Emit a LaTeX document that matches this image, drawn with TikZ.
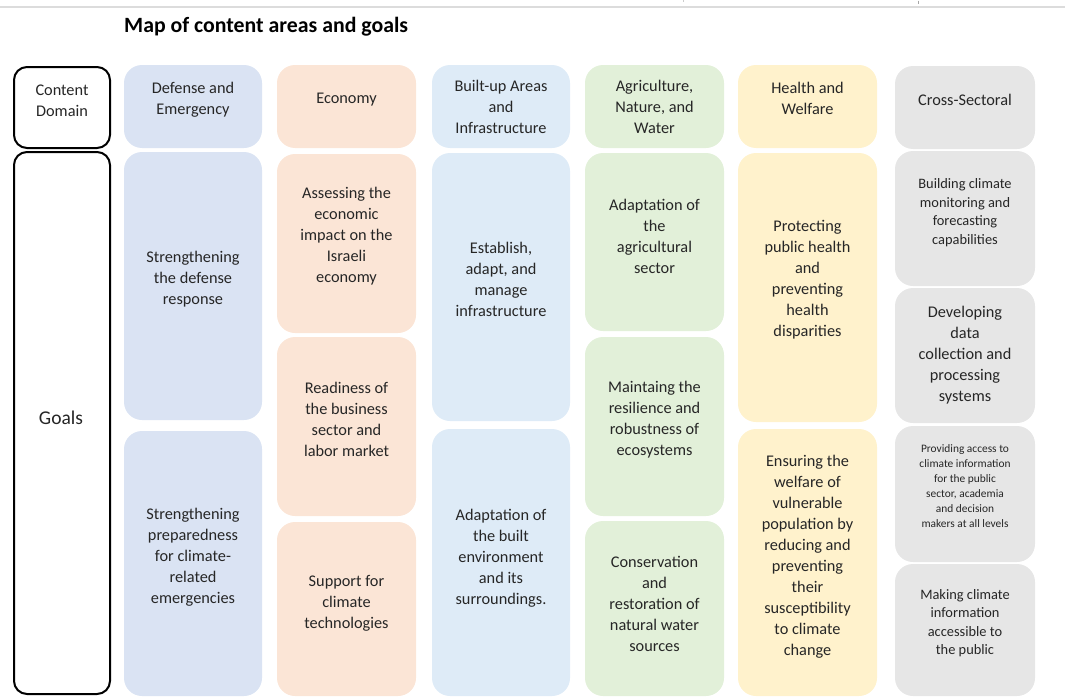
\documentclass[tikz,border=0pt]{standalone}
\usepackage{fontspec}
\setmainfont{Carlito}
\definecolor{ink}{HTML}{262626}
\definecolor{defblue}{HTML}{DAE3F3}
\definecolor{infblue}{HTML}{DEEBF7}
\definecolor{econ}{HTML}{FBE5D6}
\definecolor{agri}{HTML}{E2F0D9}
\definecolor{health}{HTML}{FFF2CC}
\definecolor{cross}{HTML}{E6E6E6}
\definecolor{rule}{HTML}{DCDCDC}

\tikzset{
  tile/.style={draw=none, rounded corners=18pt, inner sep=0pt, outer sep=0pt},
  frame/.style={draw=black, line width=2pt, rounded corners=13pt, inner sep=0pt, fill=white},
  lbl/.style={align=center, text=ink, inner sep=0pt, font=\fontsize{16.3}{21}\selectfont},
  lblsmall/.style={lbl, font=\fontsize{14.4}{18.5}\selectfont},
  lbltiny/.style={lbl, font=\fontsize{11.4}{15}\selectfont},
}

% a rounded tile given by its corners: name, x1, y1, x2, y2, fill
\newcommand{\tile}[6]{%
  \node[tile, fill=#6, minimum width={#4-#2}, minimum height={#5-#3}]
    (#1) at ({(#2+#4)/2},{(#3+#5)/2}) {};}

\begin{document}
\begin{tikzpicture}[x=1pt, y=-1pt]
\useasboundingbox (0,0) rectangle (1065,696);

% page rule along the top edge
\coordinate (ruleL) at (0,7);
\coordinate (ruleR) at (1065,7);
\draw[rule, line width=2pt] (ruleL) -- (ruleR);
\draw[gray!40, line width=0.6pt] (683,0) -- (683,1.5);
\draw[gray!70, line width=1pt] (918,0.5) -- (918,4);

% title
\node[anchor=west, text=black, inner sep=0pt,
      font=\bfseries\fontsize{21.8}{26}\selectfont] (title) at (124,27)
  {Map of content areas and goals};

% row labels
\node[frame, minimum width=96, minimum height=81] (domain) at (62,107.5) {};
\node[lbl] (domain-t) at (62,100.5) {Content\\Domain};
\node[frame, minimum width=96, minimum height=542] (goals) at (62,423) {};
\node[lbl, font=\fontsize{19.5}{23}\selectfont] (goals-t) at (61,417.5) {Goals};

% Defense and Emergency
\tile{c1h}{124}{65}{262}{148}{defblue}
\node[lbl] (c1h-t) at (193,99.5) {Defense and\\Emergency};
\tile{c1a}{124}{152}{262}{420}{defblue}
\node[lbl] (c1a-t) at (193,279) {Strengthening\\the defense\\response};
\tile{c1b}{124}{431}{262}{696}{defblue}
\node[lbl] (c1b-t) at (193,557.5) {Strengthening\\preparedness\\for climate-\\related\\emergencies};

% Economy
\tile{c2h}{277}{65}{416}{148}{econ}
\node[lbl] (c2h-t) at (346.5,100) {Economy};
\tile{c2a}{277}{154}{416}{333}{econ}
\node[lbl] (c2a-t) at (346.5,236) {Assessing the\\economic\\impact on the\\Israeli\\economy};
\tile{c2b}{277}{337}{416}{516}{econ}
\node[lbl] (c2b-t) at (346.5,419) {Readiness of\\the business\\sector and\\labor market};
\tile{c2c}{277}{522}{416}{696}{econ}
\node[lbl] (c2c-t) at (346.5,603.5) {Support for\\climate\\technologies};

% Built-up Areas and Infrastructure
\tile{c3h}{432}{65}{570}{148}{infblue}
\node[lbl] (c3h-t) at (501,107) {Built-up Areas\\and\\Infrastructure};
\tile{c3a}{432}{153}{570}{421}{infblue}
\node[lbl] (c3a-t) at (501,279.5) {Establish,\\adapt, and\\manage\\infrastructure};
\tile{c3b}{432}{429}{570}{696}{infblue}
\node[lbl] (c3b-t) at (501,558.5) {Adaptation of\\the built\\environment\\and its\\surroundings.};

% Agriculture, Nature, and Water
\tile{c4h}{585}{65}{724}{148}{agri}
\node[lbl] (c4h-t) at (654.5,107) {Agriculture,\\Nature, and\\Water};
\tile{c4a}{585}{153}{724}{331}{agri}
\node[lbl] (c4a-t) at (654.5,236) {Adaptation of\\the\\agricultural\\sector};
\tile{c4b}{585}{337}{724}{516}{agri}
\node[lbl] (c4b-t) at (654.5,419.5) {Maintaing the\\resilience and\\robustness of\\ecosystems};
\tile{c4c}{585}{521}{724}{696}{agri}
\node[lbl] (c4c-t) at (654.5,604) {Conservation\\and\\restoration of\\natural water\\sources};

% Health and Welfare
\tile{c5h}{738}{65}{877}{148}{health}
\node[lbl] (c5h-t) at (807.5,98.5) {Health and\\Welfare};
\tile{c5a}{738}{153}{877}{422}{health}
\node[lbl] (c5a-t) at (807.5,280) {Protecting\\public health\\and\\preventing\\health\\disparities};
\tile{c5b}{738}{429}{877}{696}{health}
\node[lbl] (c5b-t) at (807.5,556.5) {Ensuring the\\welfare of\\vulnerable\\population by\\reducing and\\preventing\\their\\susceptibility\\to climate\\change};

% Cross-Sectoral
\tile{c6h}{895}{66}{1035}{149}{cross}
\node[lbl] (c6h-t) at (965,100) {Cross-Sectoral};
\tile{c6a}{895}{151}{1035}{286}{cross}
\node[lblsmall] (c6a-t) at (965,212.5) {Building climate\\monitoring and\\forecasting\\capabilities};
\tile{c6b}{895}{288}{1035}{423}{cross}
\node[lbl] (c6b-t) at (965,355) {Developing\\data\\collection and\\processing\\systems};
\tile{c6c}{895}{426}{1035}{562}{cross}
\node[lbltiny] (c6c-t) at (965,486) {Providing access to\\climate information\\for the public\\sector, academia\\and decision\\makers at all levels};
\tile{c6d}{895}{564}{1035}{696}{cross}
\node[lblsmall] (c6d-t) at (965,623) {Making climate\\information\\accessible to\\the public};

\end{tikzpicture}
\end{document}
